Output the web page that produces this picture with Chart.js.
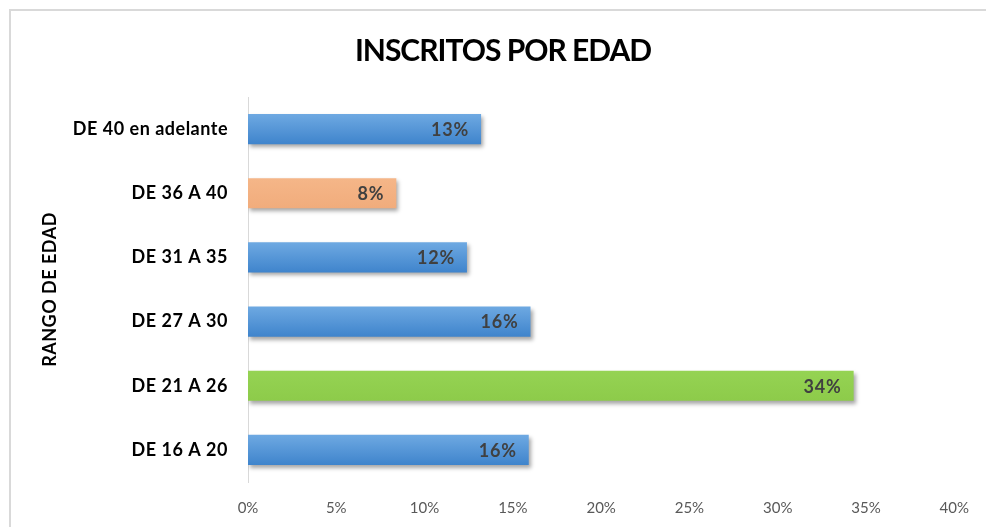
<!DOCTYPE html>
<html>
<head>
<meta charset="utf-8">
<script src="https://cdn.jsdelivr.net/npm/chart.js@4/dist/chart.umd.min.js"></script>
<style>
html,body{margin:0;padding:0;background:#fff;}
#wrap{position:relative;width:986px;height:527px;}
</style>
</head>
<body>
<div id="wrap"><canvas id="c" width="986" height="527"></canvas></div>
<script>
const categories = ["DE 40 en adelante", "DE 36 A 40", "DE 31 A 35", "DE 27 A 30", "DE 21 A 26", "DE 16 A 20"];
const values = [13.2, 8.4, 12.4, 16.0, 34.3, 15.9];
const labelsShown = ["13%", "8%", "12%", "16%", "34%", "16%"];
const colorKeys = ["blue", "orange", "blue", "blue", "green", "blue"];
const xTicks = [0, 5, 10, 15, 20, 25, 30, 35, 40];
const chartTitle = "INSCRITOS POR EDAD";
const axisTitle = "RANGO DE EDAD";

const palette = {
  blue: ["#6ea9e2", "#3f84cc"],
  orange: ["#f5b688", "#f1ac7c"],
  green: ["#95d353", "#8dcb4a"]
};

const frame = {
  id: 'frame',
  beforeDraw(chart) {
    const ctx = chart.ctx;
    ctx.save();
    ctx.fillStyle = '#fff';
    ctx.fillRect(0, 0, chart.width, chart.height);
    ctx.strokeStyle = '#d9d9d9';
    ctx.lineWidth = 2;
    ctx.beginPath();
    ctx.moveTo(10, chart.height + 5);
    ctx.lineTo(10, 10);
    ctx.lineTo(chart.width + 5, 10);
    ctx.stroke();
    ctx.restore();
  },
  afterDraw(chart) {
    const ctx = chart.ctx;
    ctx.save();
    ctx.font = 'bold 30px Lato';
    ctx.letterSpacing = '-1px';
    ctx.fillStyle = '#000';
    ctx.textAlign = 'center';
    ctx.textBaseline = 'middle';
    ctx.fillText(chartTitle, 503, 51);
    ctx.restore();
  }
};

const barStyle = {
  id: 'barStyle',
  beforeDatasetsDraw(chart) {
    const meta = chart.getDatasetMeta(0);
    const ctx = chart.ctx;
    meta.data.forEach((el, i) => {
      const p = palette[colorKeys[i]];
      const g = ctx.createLinearGradient(0, el.y - el.height / 2, 0, el.y + el.height / 2);
      g.addColorStop(0, p[0]);
      g.addColorStop(1, p[1]);
      el.options.backgroundColor = g;
    });
    ctx.save();
    ctx.shadowColor = 'rgba(0,0,0,0.35)';
    ctx.shadowOffsetX = 2;
    ctx.shadowOffsetY = 3;
    ctx.shadowBlur = 4;
  },
  afterDatasetsDraw(chart) {
    const ctx = chart.ctx;
    ctx.restore();
    const meta = chart.getDatasetMeta(0);
    ctx.save();
    ctx.font = 'bold 18px Lato';
    ctx.letterSpacing = '0.8px';
    ctx.fillStyle = '#404040';
    ctx.textAlign = 'right';
    ctx.textBaseline = 'middle';
    meta.data.forEach((el, i) => {
      ctx.fillText(labelsShown[i], el.x - 12, el.y + 1);
    });
    ctx.restore();
  }
};

function spaced(scale) {
  if (scale._spacedWrapped) return;
  scale._spacedWrapped = true;
  ['drawLabels', 'drawTitle'].forEach(fn => {
    const orig = scale[fn];
    scale[fn] = function (...args) {
      this.ctx.save();
      this.ctx.letterSpacing = '0.5px';
      orig.apply(this, args);
      this.ctx.restore();
    };
  });
}

new Chart(document.getElementById('c'), {
  type: 'bar',
  data: {
    labels: categories,
    datasets: [{
      data: values,
      backgroundColor: colorKeys.map(k => palette[k][1]),
      borderWidth: 0,
      categoryPercentage: 1,
      barPercentage: 0.47
    }]
  },
  options: {
    indexAxis: 'y',
    responsive: false,
    animation: false,
    layout: { padding: { left: 0, right: 28, top: 97, bottom: 0 } },
    plugins: {
      legend: { display: false },
      tooltip: { enabled: false },
      title: { display: false }
    },
    scales: {
      x: {
        min: 0, max: 40,
        afterBuildTicks(scale) { scale.ticks = xTicks.map(v => ({ value: v })); },
        ticks: {
          callback: v => v + '%',
          color: '#595959',
          font: { family: 'Lato', size: 15 },
          padding: 17
        },
        grid: { display: false, drawTicks: false },
        border: { display: false },
        afterFit(scale) { scale.height = 45; }
      },
      y: {
        ticks: {
          color: '#000',
          font: { family: 'Lato', size: 18, weight: 'bold' },
          padding: 20
        },
        grid: { display: false, drawTicks: false },
        border: { display: true, color: '#d9d9d9', width: 1 },
        title: {
          display: true,
          text: axisTitle,
          color: '#000',
          font: { family: 'Lato', size: 18, weight: 'bold', lineHeight: 1.2 },
          padding: { top: 39, bottom: 0 }
        },
        afterFit(scale) { scale.width = 248; spaced(scale); }
      }
    }
  },
  plugins: [frame, barStyle]
});
</script>
</body>
</html>
